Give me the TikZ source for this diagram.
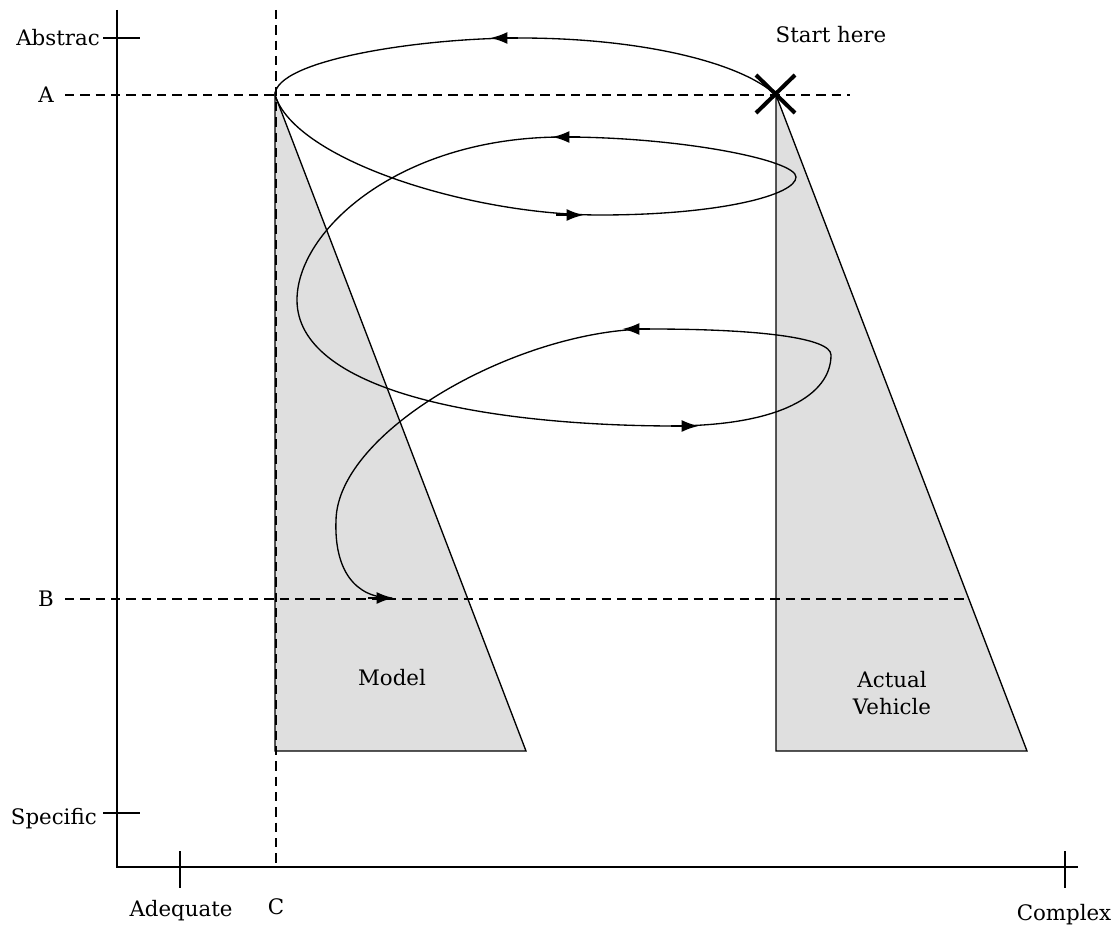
\documentclass[tikz,border=0pt]{standalone}
\usepackage{fontspec}
\setmainfont{DejaVu Serif}
\usetikzlibrary{arrows.meta}
\begin{document}
\begin{tikzpicture}[x=0.75pt,y=-0.75pt,
  axis/.style={line width=1.5pt},
  guide/.style={line width=1.1pt, dash pattern=on 7pt off 4.5pt},
  wedge/.style={fill=gray!25, draw=black, line width=1pt, line join=miter},
  spiral/.style={line width=1pt, line join=round},
  head/.style={line width=1.8pt, -{Latex[length=13pt,width=9pt]}},
  lbl/.style={font=\fontsize{16}{20}\selectfont, inner sep=0pt},
]
\useasboundingbox (0,0) rectangle (1120,924);

% wedges
\draw[wedge] (275,95) -- (526,751) -- (275,751) -- cycle;
\draw[wedge] (776,95) -- (1027,751) -- (776,751) -- cycle;

% axes
\draw[axis] (117,10) -- (117,867) -- (1078,867);
\draw[axis] (103,38) -- (140,38);
\draw[axis] (103,813) -- (140,813);
\draw[axis] (180,851) -- (180,888);
\draw[axis] (1065,851) -- (1065,888);

% guides
\draw[guide] (65,95) -- (850,95);
\draw[guide] (65,599) -- (969,599);
\draw[guide] (276,10) -- (276,867);

% spiral
\draw[spiral] (776,95) .. controls (740,62) and (640,38) .. (520,38)
  .. controls (420,38) and (275,60) .. (275,95);
\draw[spiral] (275,95) .. controls (295,160) and (470,215) .. (600,215)
  .. controls (720,215) and (796,195) .. (796,177)
  .. controls (796,160) and (680,137) .. (563,137)
  .. controls (400,137) and (297,230) .. (297,300)
  .. controls (297,390) and (480,425) .. (670,426)
  .. controls (780,426) and (831,395) .. (831,355)
  .. controls (831,338) and (760,329) .. (650,329)
  .. controls (520,329) and (338,430) .. (336,520)
  .. controls (334,570) and (355,598) .. (392,598);

% arrow heads
\draw[head] (518,38) -- (490,38);
\draw[head] (580,137) -- (552,137);
\draw[head] (556,215) -- (584,215);
\draw[head] (650,329) -- (622,329);
\draw[head] (671,426) -- (699,426);
\draw[head] (368,598) -- (394,598);

% start mark
\draw[line width=3pt] (756,75) -- (795,113) (795,75) -- (756,113);

% labels
\node[lbl, anchor=east] (abs) at (100,38) {Abstrac};
\node[lbl] (A) at (46,95) {A};
\node[lbl] (B) at (46,599) {B};
\node[lbl, anchor=east] (spec) at (97,819) {Specific};
\node[lbl, anchor=base] (adeq) at (181,916) {Adequate};
\node[lbl, anchor=base] (C) at (276,914) {C};
\node[lbl, anchor=base] (cplx) at (1064,920) {Complex};
\node[lbl] (start) at (831,35) {Start here};
\node[lbl] (model) at (392,678) {Model};
\node[lbl, align=center] (veh) at (892,693) {Actual\\Vehicle};
\end{tikzpicture}
\end{document}
